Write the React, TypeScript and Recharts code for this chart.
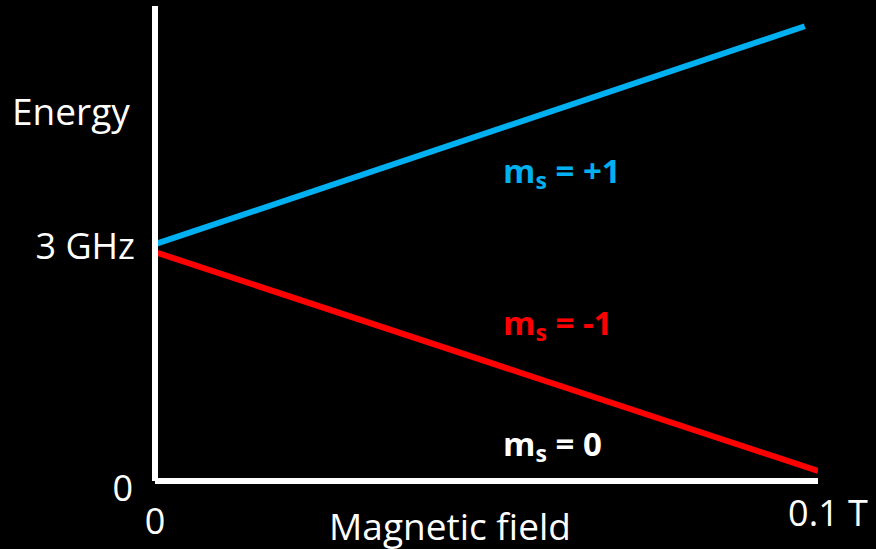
import React from 'react';
import {
  LineChart, Line, XAxis, YAxis, ReferenceDot, Label,
} from 'recharts';

// Zeeman splitting of the NV ground state (energies in GHz, field in T)
const fieldTicks = [0, 0.1];
const fieldTickLabels = ['0', '0.1 T'];
const energyTicks = [0, 3];
const energyTickLabels = ['0', '3 GHz'];

const plusOne = [
  { field: 0, energy: 3.04 },
  { field: 0.098, energy: 5.84 },
];
const minusOne = [
  { field: 0, energy: 2.94 },
  { field: 0.1, energy: 0.13 },
];

// level names, with where each one sits in the plot
const levelNames = ['+1', '-1', '0'];
const levelColors = ['#00B0F0', '#FF0000', '#FFFFFF'];
const levelAnchors = [
  { field: 0.0525, energy: 3.99 },
  { field: 0.0525, energy: 2.04 },
  { field: 0.0525, energy: 0.49 },
];

const FONT = '"Open Sans", "Noto Sans", sans-serif';
const WIDTH = 876;
const HEIGHT = 549;

const YTick = ({ x, y, payload }: any) => {
  const i = energyTicks.indexOf(payload.value);
  const isZero = payload.value === 0;
  return (
    <text
      x={x - (isZero ? 22 : 20)}
      y={y + (isZero ? 6 : -2)}
      textAnchor="end"
      dominantBaseline="central"
      fill="#fff"
      fontSize={36}
      fontFamily={FONT}
    >
      {energyTickLabels[i]}
    </text>
  );
};

const XTick = ({ x, y, payload }: any) => {
  const i = fieldTicks.indexOf(payload.value);
  const isZero = payload.value === 0;
  return (
    <text
      x={x + (isZero ? 0 : 10)}
      y={y + (isZero ? 39 : 31)}
      textAnchor="middle"
      dominantBaseline="central"
      fill="#fff"
      fontSize={36}
      fontFamily={FONT}
    >
      {fieldTickLabels[i]}
    </text>
  );
};

const levelLabel = (idx: number) => (props: any) => {
  const { viewBox } = props;
  const x = viewBox.x + (viewBox.width || 0) / 2;
  const y = viewBox.y + (viewBox.height || 0) / 2;
  return (
    <text
      x={x}
      y={y}
      dominantBaseline="central"
      fill={levelColors[idx]}
      fontSize={33}
      fontWeight="bold"
      fontFamily={FONT}
    >
      <tspan>m</tspan>
      <tspan dy={10} fontSize={23}>s</tspan>
      <tspan dy={-10}>{` = ${levelNames[idx]}`}</tspan>
    </text>
  );
};

export default function App() {
  return (
    <div style={{ position: 'absolute', left: 0, top: 0, width: WIDTH, height: HEIGHT, background: '#000' }}>
      <LineChart
        width={WIDTH}
        height={HEIGHT}
        margin={{ top: 6, right: 58, left: 0, bottom: 0 }}
      >
        <XAxis
          type="number"
          dataKey="field"
          domain={[0, 0.1]}
          ticks={fieldTicks}
          tick={<XTick />}
          tickLine={false}
          tickSize={0}
          tickMargin={0}
          height={68}
          axisLine={{ stroke: '#fff', strokeWidth: 6 }}
          allowDataOverflow
        >
          <Label
            content={({ viewBox }: any) => (
              <text
                x={viewBox.x + 295}
                y={viewBox.y + 44}
                textAnchor="middle"
                dominantBaseline="central"
                fill="#fff"
                fontSize={37}
                fontFamily={FONT}
              >
                Magnetic field
              </text>
            )}
          />
        </XAxis>
        <YAxis
          type="number"
          domain={[0, 6.1]}
          ticks={energyTicks}
          tick={<YTick />}
          tickLine={false}
          tickSize={0}
          tickMargin={0}
          width={155}
          axisLine={{ stroke: '#fff', strokeWidth: 6 }}
          allowDataOverflow
        >
          <Label
            content={({ viewBox }: any) => (
              <text
                x={12}
                y={viewBox.y + 104}
                dominantBaseline="central"
                fill="#fff"
                fontSize={37}
                fontFamily={FONT}
              >
                Energy
              </text>
            )}
          />
        </YAxis>
        <Line
          data={plusOne}
          dataKey="energy"
          stroke={levelColors[0]}
          strokeWidth={6}
          dot={false}
          isAnimationActive={false}
        />
        <Line
          data={minusOne}
          dataKey="energy"
          stroke={levelColors[1]}
          strokeWidth={6}
          dot={false}
          isAnimationActive={false}
        />
        {levelAnchors.map((a, i) => (
          <ReferenceDot
            key={levelNames[i]}
            x={a.field}
            y={a.energy}
            r={0}
            fill="none"
            stroke="none"
            label={{ content: levelLabel(i) }}
          />
        ))}
      </LineChart>
    </div>
  );
}
